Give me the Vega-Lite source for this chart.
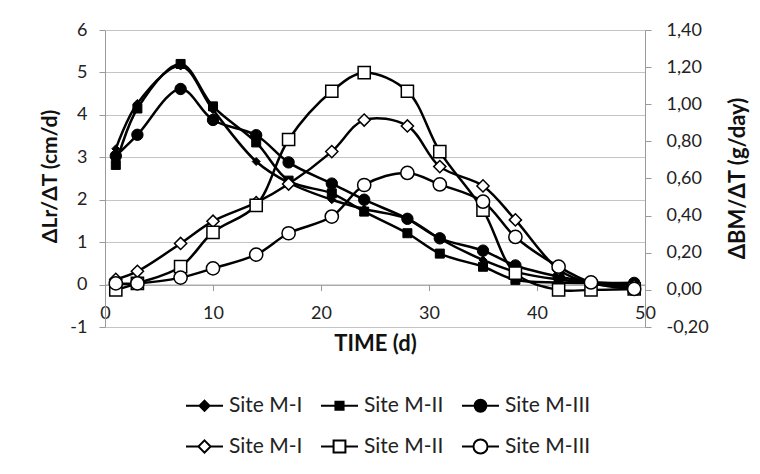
{
  "$schema": "https://vega.github.io/schema/vega-lite/v6.json",
  "width": 540,
  "height": 297,
  "autosize": "none",
  "padding": {"left": 105, "top": 30, "right": 115, "bottom": 147},
  "background": "white",
  "config": {
    "view": {"stroke": null},
    "font": "Lato",
    "axis": {
      "labelFont": "Lato",
      "labelFontSize": 18,
      "labelColor": "#222222",
      "titleFont": "Lato",
      "titleFontSize": 21,
      "titleFontWeight": "bold",
      "titleColor": "#111111",
      "domainColor": "#9a9a9a",
      "tickColor": "#9a9a9a",
      "gridColor": "#c4c4c4",
      "tickSize": 6
    }
  },
  "data": {
    "values": [
      {"series": "L Site M-I", "day": 1, "value": 3.2},
      {"series": "L Site M-I", "day": 3, "value": 4.27},
      {"series": "L Site M-I", "day": 7, "value": 5.15},
      {"series": "L Site M-I", "day": 10, "value": 4.12},
      {"series": "L Site M-I", "day": 14, "value": 2.9},
      {"series": "L Site M-I", "day": 17, "value": 2.4},
      {"series": "L Site M-I", "day": 21, "value": 2.0},
      {"series": "L Site M-I", "day": 24, "value": 1.78},
      {"series": "L Site M-I", "day": 28, "value": 1.55},
      {"series": "L Site M-I", "day": 31, "value": 1.08},
      {"series": "L Site M-I", "day": 35, "value": 0.58},
      {"series": "L Site M-I", "day": 38, "value": 0.3},
      {"series": "L Site M-I", "day": 42, "value": 0.12},
      {"series": "L Site M-I", "day": 45, "value": 0.05},
      {"series": "L Site M-I", "day": 49, "value": 0.02},
      {"series": "L Site M-II", "day": 1, "value": 2.82},
      {"series": "L Site M-II", "day": 3, "value": 4.15},
      {"series": "L Site M-II", "day": 7, "value": 5.2},
      {"series": "L Site M-II", "day": 10, "value": 4.2},
      {"series": "L Site M-II", "day": 14, "value": 3.35},
      {"series": "L Site M-II", "day": 17, "value": 2.45},
      {"series": "L Site M-II", "day": 21, "value": 2.15},
      {"series": "L Site M-II", "day": 24, "value": 1.72},
      {"series": "L Site M-II", "day": 28, "value": 1.21},
      {"series": "L Site M-II", "day": 31, "value": 0.73},
      {"series": "L Site M-II", "day": 35, "value": 0.42},
      {"series": "L Site M-II", "day": 38, "value": 0.11},
      {"series": "L Site M-II", "day": 42, "value": 0.05},
      {"series": "L Site M-II", "day": 45, "value": 0.03},
      {"series": "L Site M-II", "day": 49, "value": 0.01},
      {"series": "L Site M-III", "day": 1, "value": 3.03},
      {"series": "L Site M-III", "day": 3, "value": 3.53},
      {"series": "L Site M-III", "day": 7, "value": 4.61},
      {"series": "L Site M-III", "day": 10, "value": 3.88},
      {"series": "L Site M-III", "day": 14, "value": 3.52},
      {"series": "L Site M-III", "day": 17, "value": 2.88},
      {"series": "L Site M-III", "day": 21, "value": 2.38},
      {"series": "L Site M-III", "day": 24, "value": 2.0},
      {"series": "L Site M-III", "day": 28, "value": 1.55},
      {"series": "L Site M-III", "day": 31, "value": 1.09},
      {"series": "L Site M-III", "day": 35, "value": 0.8},
      {"series": "L Site M-III", "day": 38, "value": 0.45},
      {"series": "L Site M-III", "day": 42, "value": 0.19},
      {"series": "L Site M-III", "day": 45, "value": 0.06},
      {"series": "L Site M-III", "day": 49, "value": 0.04},
      {"series": "B Site M-I", "day": 1, "value": 0.057},
      {"series": "B Site M-I", "day": 3, "value": 0.1},
      {"series": "B Site M-I", "day": 7, "value": 0.25},
      {"series": "B Site M-I", "day": 10, "value": 0.37},
      {"series": "B Site M-I", "day": 14, "value": 0.47},
      {"series": "B Site M-I", "day": 17, "value": 0.57},
      {"series": "B Site M-I", "day": 21, "value": 0.745},
      {"series": "B Site M-I", "day": 24, "value": 0.915},
      {"series": "B Site M-I", "day": 28, "value": 0.883},
      {"series": "B Site M-I", "day": 31, "value": 0.664},
      {"series": "B Site M-I", "day": 35, "value": 0.56},
      {"series": "B Site M-I", "day": 38, "value": 0.377},
      {"series": "B Site M-I", "day": 42, "value": 0.11},
      {"series": "B Site M-I", "day": 45, "value": 0.035},
      {"series": "B Site M-I", "day": 49, "value": 0.02},
      {"series": "B Site M-II", "day": 1, "value": 0.0},
      {"series": "B Site M-II", "day": 3, "value": 0.035},
      {"series": "B Site M-II", "day": 7, "value": 0.125},
      {"series": "B Site M-II", "day": 10, "value": 0.31},
      {"series": "B Site M-II", "day": 14, "value": 0.455},
      {"series": "B Site M-II", "day": 17, "value": 0.81},
      {"series": "B Site M-II", "day": 21, "value": 1.07},
      {"series": "B Site M-II", "day": 24, "value": 1.17},
      {"series": "B Site M-II", "day": 28, "value": 1.07},
      {"series": "B Site M-II", "day": 31, "value": 0.745},
      {"series": "B Site M-II", "day": 35, "value": 0.43},
      {"series": "B Site M-II", "day": 38, "value": 0.09},
      {"series": "B Site M-II", "day": 42, "value": 0.0},
      {"series": "B Site M-II", "day": 45, "value": 0.0},
      {"series": "B Site M-II", "day": 49, "value": 0.005},
      {"series": "B Site M-III", "day": 1, "value": 0.035},
      {"series": "B Site M-III", "day": 3, "value": 0.035},
      {"series": "B Site M-III", "day": 7, "value": 0.066},
      {"series": "B Site M-III", "day": 10, "value": 0.116},
      {"series": "B Site M-III", "day": 14, "value": 0.19},
      {"series": "B Site M-III", "day": 17, "value": 0.305},
      {"series": "B Site M-III", "day": 21, "value": 0.395},
      {"series": "B Site M-III", "day": 24, "value": 0.565},
      {"series": "B Site M-III", "day": 28, "value": 0.63},
      {"series": "B Site M-III", "day": 31, "value": 0.568},
      {"series": "B Site M-III", "day": 35, "value": 0.475},
      {"series": "B Site M-III", "day": 38, "value": 0.285},
      {"series": "B Site M-III", "day": 42, "value": 0.125},
      {"series": "B Site M-III", "day": 45, "value": 0.04},
      {"series": "B Site M-III", "day": 49, "value": 0.005}
    ]
  },
  "encoding": {
    "x": {
      "field": "day",
      "type": "quantitative",
      "scale": {"domain": [0, 50], "nice": false},
      "axis": {
        "values": [0, 10, 20, 30, 40, 50],
        "offset": -42.4,
        "grid": false,
        "labelPadding": 14,
        "labelFlush": false,
        "labelExpr": "datum.value",
        "title": "TIME (d)",
        "titleFontSize": 22,
        "titleX": 270,
        "titleY": 59,
        "titleBaseline": "middle",
        "titleAlign": "center"
      }
    }
  },
  "layer": [
    {
      "transform": [{"filter": "slice(datum.series, 0, 1) === 'L'"}],
      "encoding": {
        "y": {
          "field": "value",
          "type": "quantitative",
          "scale": {"domain": [-1, 6], "nice": false, "zero": false},
          "axis": {
            "orient": "left",
            "values": [-1, 0, 1, 2, 3, 4, 5, 6],
            "grid": true,
            "labelPadding": 12,
            "labelExpr": "datum.value",
            "title": "ΔLr/ΔT (cm/d)",
            "titleAngle": -90,
            "titleX": -55,
            "titleY": 146,
            "titleBaseline": "middle",
            "titleAlign": "center"
          }
        }
      },
      "layer": [
        {
          "mark": {"type": "point", "filled": true, "opacity": 0},
          "encoding": {
            "shape": {
              "field": "series",
              "type": "nominal",
              "scale": {
                "domain": ["L Site M-I", "L Site M-II", "L Site M-III", "B Site M-I", "B Site M-II", "B Site M-III"],
                "range": [
                  "M-1,0H1M0,-0.27L0.27,0L0,0.27L-0.27,0Z",
                  "M-1,0H1M-0.22,-0.22H0.22V0.22H-0.22Z",
                  "M-1,0H1M-0.32,0A0.32,0.32,0,1,0,0.32,0A0.32,0.32,0,1,0,-0.32,0Z",
                  "M-1,0H-0.33M0.33,0H1M0,-0.33L0.33,0L0,0.33L-0.33,0Z",
                  "M-1,0H-0.32M0.32,0H1M-0.32,-0.32H0.32V0.32H-0.32Z",
                  "M-1,0H-0.38M0.38,0H1M-0.38,0A0.38,0.38,0,1,0,0.38,0A0.38,0.38,0,1,0,-0.38,0Z"
                ]
              },
              "legend": {
                "title": null,
                "orient": "none",
                "legendX": 80,
                "legendY": 356,
                "columns": 3,
                "direction": "horizontal",
                "symbolSize": 1369,
                "symbolStrokeWidth": 2,
                "symbolStrokeColor": "black",
                "symbolOpacity": 1,
                "labelFont": "Lato",
                "labelFontSize": 21,
                "labelColor": "#222222",
                "labelOffset": 5,
                "columnPadding": 14,
                "rowPadding": 11,
                "padding": 0,
                "labelExpr": "slice(datum.label, 2)"
              }
            },
            "fill": {
              "field": "series",
              "type": "nominal",
              "scale": {
                "domain": ["L Site M-I", "L Site M-II", "L Site M-III", "B Site M-I", "B Site M-II", "B Site M-III"],
                "range": ["black", "black", "black", "white", "white", "white"]
              }
            },
            "stroke": {
              "field": "series",
              "type": "nominal",
              "scale": {
                "domain": ["L Site M-I", "L Site M-II", "L Site M-III", "B Site M-I", "B Site M-II", "B Site M-III"],
                "range": ["black", "black", "black", "black", "black", "black"]
              }
            }
          }
        },
        {
          "mark": {"type": "line", "interpolate": "catmull-rom", "color": "black", "strokeWidth": 2.5},
          "encoding": {"detail": {"field": "series", "type": "nominal"}}
        },
        {
          "mark": {"type": "point", "filled": true, "fill": "black", "stroke": "black", "strokeWidth": 1, "opacity": 1},
          "encoding": {
            "shape": {
              "condition": [
                {"test": "datum.series === 'L Site M-I'", "value": "diamond"},
                {"test": "datum.series === 'L Site M-II'", "value": "square"}
              ],
              "value": "circle"
            },
            "size": {
              "condition": [
                {"test": "datum.series === 'L Site M-I'", "value": 64},
                {"test": "datum.series === 'L Site M-II'", "value": 81}
              ],
              "value": 130
            }
          }
        }
      ]
    },
    {
      "transform": [{"filter": "slice(datum.series, 0, 1) === 'B'"}],
      "encoding": {
        "y": {
          "field": "value",
          "type": "quantitative",
          "scale": {"domain": [-0.2, 1.4], "nice": false, "zero": false},
          "axis": {
            "orient": "right",
            "values": [-0.2, 0, 0.2, 0.4, 0.6, 0.8, 1.0, 1.2, 1.4],
            "grid": false,
            "labelPadding": 15,
            "labelExpr": "replace(replace(format(datum.value, '.2f'), '.', ','), '\u2212', '-')",
            "title": "ΔBM/ΔT (g/day)",
            "titleAngle": 270,
            "titleX": 92,
            "titleY": 148,
            "titleBaseline": "middle",
            "titleAlign": "center",
            "titleFontSize": 22
          }
        }
      },
      "layer": [
        {
          "mark": {"type": "line", "interpolate": "catmull-rom", "color": "black", "strokeWidth": 2.5},
          "encoding": {"detail": {"field": "series", "type": "nominal"}}
        },
        {
          "mark": {"type": "point", "filled": true, "fill": "white", "stroke": "black", "strokeWidth": 1.5, "opacity": 1},
          "encoding": {
            "shape": {
              "condition": [
                {"test": "datum.series === 'B Site M-I'", "value": "diamond"},
                {"test": "datum.series === 'B Site M-II'", "value": "square"}
              ],
              "value": "circle"
            },
            "size": {
              "condition": [
                {"test": "datum.series === 'B Site M-III'", "value": 175}
              ],
              "value": 148
            }
          }
        }
      ]
    }
  ],
  "resolve": {"scale": {"y": "independent"}}
}
